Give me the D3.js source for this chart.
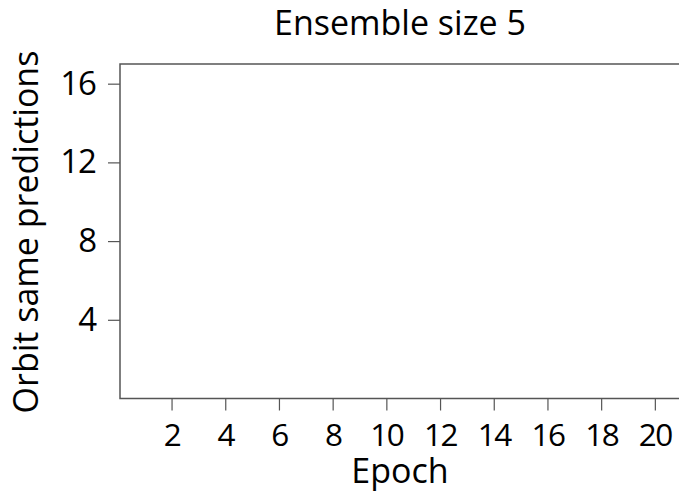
<!DOCTYPE html>
<html>
<head>
<meta charset="utf-8">
<script src="https://cdn.jsdelivr.net/npm/d3@7/dist/d3.min.js"></script>
<style>
  html, body { margin: 0; padding: 0; background: #fff; }
  svg { display: block; }
  text { font-family: "Open Sans", sans-serif; fill: #000; }
</style>
</head>
<body>
<svg id="chart" width="679" height="493"></svg>
<script>
// Chart text and axis ticks
const title = "Ensemble size 5";
const xLabel = "Epoch";
const yLabel = "Orbit same predictions";
const epochTicks = [2, 4, 6, 8, 10, 12, 14, 16, 18, 20];
const countTicks = [4, 8, 12, 16];
// Per-epoch series (no observations recorded for this ensemble size)
const epochs = [];
const sameCounts = [];

const svg = d3.select("#chart");
const plot = { left: 120, top: 64, bottom: 398.5 };

const x = d3.scaleLinear().domain([0.08, 21]).range([plot.left, plot.left + 20.92 * 26.85]);
const y = d3.scaleLinear().domain([0, 17]).range([plot.bottom, plot.top]);

// frame (right edge lies beyond the drawing area)
svg.append("path")
  .attr("d", `M${x.range()[1]},${plot.top}H${plot.left}V${plot.bottom}H${x.range()[1]}`)
  .attr("fill", "none").attr("stroke", "#555").attr("stroke-width", 1.5);

// x axis
const xAxis = svg.append("g")
  .attr("transform", `translate(0,${plot.bottom})`)
  .call(d3.axisBottom(x).tickValues(epochTicks).tickSize(12).tickPadding(13));
xAxis.select(".domain").remove();
xAxis.selectAll(".tick line").attr("stroke", "#555").attr("stroke-width", 1.2);
xAxis.selectAll(".tick text").attr("font-size", 31.5).attr("font-family", "Open Sans")
  .attr("letter-spacing", -1.5);

// y axis
const yAxis = svg.append("g")
  .attr("transform", `translate(${plot.left},0)`)
  .call(d3.axisLeft(y).tickValues(countTicks).tickSize(12).tickPadding(12));
yAxis.select(".domain").remove();
yAxis.selectAll(".tick line").attr("stroke", "#555").attr("stroke-width", 1.2);
yAxis.selectAll(".tick text").attr("font-size", 33).attr("font-family", "Open Sans")
  .attr("letter-spacing", -1);

// series line (empty)
svg.append("path")
  .datum(epochs.map((e, i) => [e, sameCounts[i]]))
  .attr("fill", "none").attr("stroke", "#000")
  .attr("d", d3.line().x(d => x(d[0])).y(d => y(d[1])));

// titles
svg.append("text").attr("x", 400).attr("y", 35).attr("text-anchor", "middle")
  .attr("font-size", 34).text(title);
svg.append("text").attr("x", 400).attr("y", 483).attr("text-anchor", "middle")
  .attr("font-size", 34).text(xLabel);
svg.append("text").attr("transform", "translate(38,232) rotate(-90)")
  .attr("text-anchor", "middle").attr("font-size", 34).text(yLabel);
</script>
</body>
</html>
